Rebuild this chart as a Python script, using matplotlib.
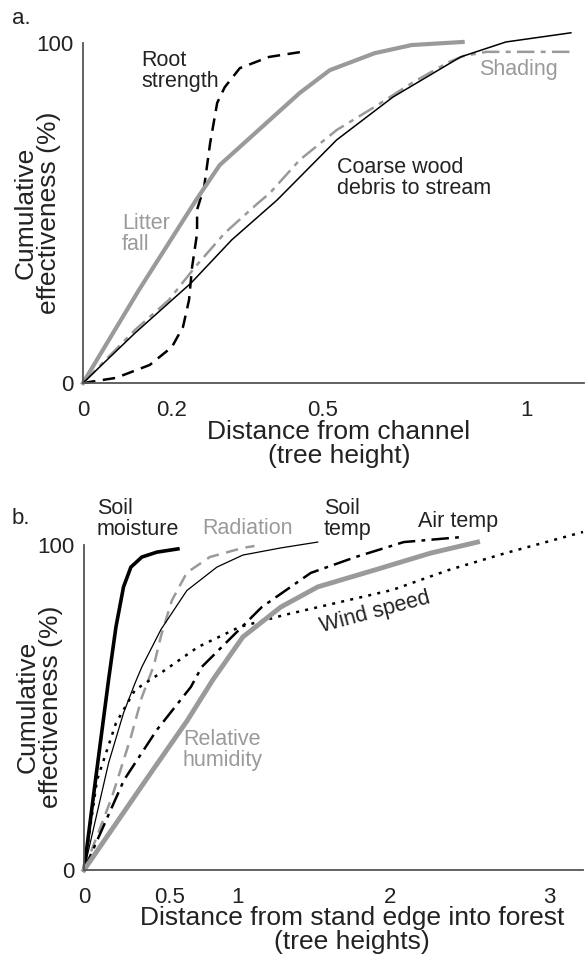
import numpy as np
import matplotlib.pyplot as plt

# ---- data ----
# panel a: distance from channel (tree heights) vs cumulative effectiveness (%)
root_x = [0, 0.074, 0.15, 0.2, 0.222, 0.234, 0.24, 0.25, 0.25, 0.264, 0.276, 0.29, 0.305, 0.335, 0.393, 0.467]
root_y = [0, 1.5, 5.3, 10.6, 16.5, 24.4, 34, 44, 51, 57.6, 70.6, 82.4, 87, 92.6, 95.9, 97.6]

litter_x = [0, 0.126, 0.248, 0.295, 0.379, 0.454, 0.517, 0.627, 0.718, 0.843]
litter_y = [0, 27.4, 53.8, 64.1, 75.3, 85.3, 92, 97, 99.4, 100.3]

shade_x = [0, 0.117, 0.193, 0.246, 0.305, 0.371, 0.395, 0.454, 0.534, 0.627, 0.718, 0.809, 0.846, 0.902, 1.108]
shade_y = [0, 15.6, 24.4, 34.1, 44.1, 52.9, 55.9, 65.6, 74.4, 81.2, 88.2, 94.4, 96.2, 97.4, 97.4]

wood_x = [0, 0.117, 0.238, 0.319, 0.409, 0.534, 0.672, 0.838, 0.949, 1.108]
wood_y = [0, 14.7, 29.4, 42.1, 53.8, 71.5, 84.1, 95.9, 100.3, 103]

# panel b: distance from stand edge into forest (tree heights)
soilm_x = [0, 0.067, 0.143, 0.186, 0.23, 0.273, 0.337, 0.424, 0.559]
soilm_y = [0, 27.7, 58.5, 74.8, 87.1, 93.2, 96.3, 97.8, 98.8]

rad_x = [0, 0.163, 0.273, 0.337, 0.407, 0.448, 0.515, 0.625, 0.794, 1.033, 1.11]
rad_y = [0, 22.5, 40.9, 53.2, 63, 72, 83, 91.5, 96.3, 99.1, 99.7]

soilt_x = [0, 0.143, 0.23, 0.297, 0.337, 0.448, 0.625, 0.846, 1.033, 1.283, 1.526]
soilt_y = [0, 32.9, 48.3, 57.5, 62.5, 74, 86, 93.2, 96.9, 99.1, 100.9]

wind_x = [0, 0.076, 0.186, 0.297, 0.471, 0.706, 1.013, 1.309, 1.651, 2.019, 2.369, 2.725, 3.21]
wind_y = [0, 27.7, 45.2, 55.4, 61.5, 68.6, 74.8, 78.5, 82.2, 86.2, 92.3, 97.5, 104]

air_x = [0, 0.233, 0.424, 0.654, 0.735, 0.956, 1.158, 1.48, 1.776, 2.088, 2.463]
air_y = [0, 27.7, 43.1, 56.3, 62.5, 71.7, 80.9, 91.4, 96.3, 100.9, 102.5]

rh_x = [0, 0.384, 0.625, 0.816, 1.033, 1.283, 1.526, 1.901, 2.256, 2.55]
rh_y = [0, 29.5, 45.8, 58.5, 71.7, 80.9, 87.1, 92.3, 97.5, 100.9]

a_ticks = [0, 0.2, 0.5, 1]
a_ticklabels = ['0', '0.2', '0.5', '1']
b_ticks = [0, 0.5, 1, 2, 3]
b_ticklabels = ['0', '0.5', '1', '2', '3']

# the original x axes are not evenly spaced, so map tick values to where they sit
a_tick_px = [83, 172, 323, 527, 609]
b_tick_px = [84, 170, 238, 390, 550, 630]

W, H = 585, 957
GRAY = '#9a9a9a'
INK = '#222222'

plt.rcParams['font.family'] = ['Liberation Sans', 'DejaVu Sans']


def fpos(x, y):
    return x / W, 1 - y / H


def piecewise(vals, pos):
    fwd = lambda x: np.interp(x, vals, pos)
    inv = lambda p: np.interp(p, pos, vals)
    return fwd, inv


def style_axes(ax, ticks, labels):
    for s in ['top', 'right']:
        ax.spines[s].set_visible(False)
    for s in ['left', 'bottom']:
        ax.spines[s].set_color('#555555')
        ax.spines[s].set_linewidth(1.3)
    ax.spines['left'].set_bounds(0, 100)
    ax.set_yticks([0, 100])
    ax.set_xticks(ticks)
    ax.set_xticklabels(labels)
    ax.tick_params(length=0, labelsize=16, colors=INK)
    ax.tick_params(axis='x', pad=12)
    ax.tick_params(axis='y', pad=7)


fig = plt.figure(figsize=(W / 100, H / 100), dpi=100)

# ---- panel a ----
axa = fig.add_axes([83 / W, (H - 383) / H, 501 / W, (383 - 29.4) / H])
axa.set_xscale('function', functions=piecewise(a_ticks + [1.2], a_tick_px))
axa.plot(root_x, root_y, color='black', lw=1.8, dashes=(5, 3), clip_on=False)
axa.plot(litter_x, litter_y, color=GRAY, lw=3, clip_on=False)
axa.plot(shade_x, shade_y, color=GRAY, lw=1.8, dashes=(7, 2.5, 2, 2.5), clip_on=False)
axa.plot(wood_x, wood_y, color='black', lw=1.1, clip_on=False)
axa.set_xlim(0, 1.14)
axa.set_ylim(0, 104)
style_axes(axa, a_ticks, a_ticklabels)

# ---- panel b ----
axb = fig.add_axes([84 / W, (H - 870) / H, 499 / W, (870 - 528.75) / H])
axb.set_xscale('function', functions=piecewise(b_ticks + [3.5], b_tick_px))
axb.plot(soilm_x, soilm_y, color='black', lw=2.6, clip_on=False)
axb.plot(rad_x, rad_y, color=GRAY, lw=1.8, dashes=(5, 3), clip_on=False)
axb.plot(soilt_x, soilt_y, color='black', lw=0.9, clip_on=False)
axb.plot(wind_x, wind_y, color='black', lw=1.8, dashes=(1.2, 2.5), clip_on=False)
axb.plot(air_x, air_y, color='black', lw=1.8, dashes=(7, 2.5, 1.5, 2.5), clip_on=False)
axb.plot(rh_x, rh_y, color=GRAY, lw=3.5, clip_on=False)
axb.set_xlim(0, 3.21)
axb.set_ylim(0, 105)
style_axes(axb, b_ticks, b_ticklabels)

# ---- text ----
txt = dict(fontsize=15.5, color=INK, va='center', linespacing=1.0)
fig.text(*fpos(12, 18), 'a.', fontsize=16, color=INK, va='center')
fig.text(*fpos(141, 71), 'Root\nstrength', **txt)
fig.text(*fpos(122, 234), 'Litter\nfall', **{**txt, 'color': GRAY})
fig.text(*fpos(479, 70), 'Shading', **{**txt, 'color': GRAY})
fig.text(*fpos(337, 178), 'Coarse wood\ndebris to stream', **txt)
fig.text(*fpos(339, 444), 'Distance from channel\n(tree height)', fontsize=19, color=INK,
         ha='center', va='center', linespacing=0.95)
fig.text(*fpos(37, 213), 'Cumulative\neffectiveness (%)', fontsize=19, color=INK,
         ha='center', va='center', rotation=90, linespacing=0.95)

fig.text(*fpos(12, 518), 'b.', fontsize=16, color=INK, va='center')
fig.text(*fpos(97, 519), 'Soil\nmoisture', **txt)
fig.text(*fpos(202, 528), 'Radiation', **{**txt, 'color': GRAY})
fig.text(*fpos(324, 519), 'Soil\ntemp', **txt)
fig.text(*fpos(418, 522), 'Air temp', **txt)
fig.text(*fpos(375, 612), 'Wind speed', fontsize=15.5, color=INK, ha='center', va='center', rotation=15)
fig.text(*fpos(183, 750), 'Relative\nhumidity', **{**txt, 'color': GRAY})
fig.text(*fpos(352, 930), 'Distance from stand edge into forest\n(tree heights)', fontsize=19,
         color=INK, ha='center', va='center', linespacing=0.95)
fig.text(*fpos(39, 707), 'Cumulative\neffectiveness (%)', fontsize=19, color=INK,
         ha='center', va='center', rotation=90, linespacing=0.95)

fig.savefig('out.png', dpi=100)
